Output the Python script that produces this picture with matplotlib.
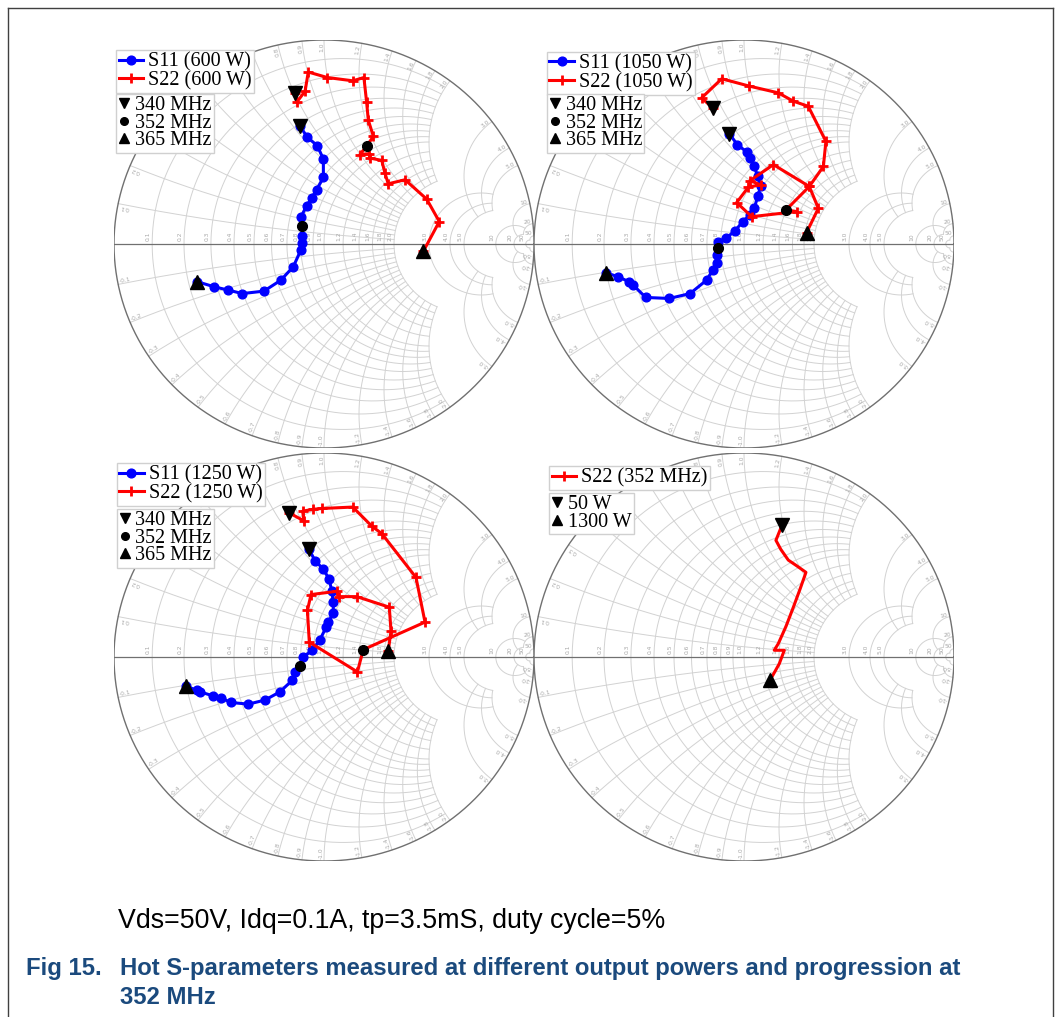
import numpy as np
import matplotlib
matplotlib.use('Agg')
import matplotlib.pyplot as plt
from matplotlib.lines import Line2D

# ---------------- data (reflection coefficient, real / imag) ----------------
# Panel 1: 600 W
p1_s11_re = [-0.114, -0.079, -0.032, -0.003, -0.003, -0.035, -0.059, -0.083, -0.111, -0.106,
             -0.103, -0.106, -0.111, -0.146, -0.205, -0.286, -0.389, -0.456, -0.522, -0.603]
p1_s11_im = [0.577, 0.523, 0.482, 0.416, 0.326, 0.266, 0.225, 0.187, 0.130, 0.090,
             0.041, 0.003, -0.031, -0.111, -0.177, -0.231, -0.243, -0.226, -0.210, -0.185]
p1_s22_re = [-0.137, -0.130, -0.090, -0.075, 0.016, 0.137, 0.190, 0.203, 0.211, 0.235, 0.205,
             0.171, 0.216, 0.219, 0.275, 0.290, 0.306, 0.386, 0.489, 0.549, 0.473]
p1_s22_im = [0.738, 0.695, 0.749, 0.843, 0.816, 0.800, 0.816, 0.695, 0.607, 0.528, 0.482,
             0.438, 0.443, 0.421, 0.410, 0.348, 0.295, 0.315, 0.220, 0.110, -0.036]
p1_s11_mid = 9
p1_s22_mid = 10

# Panel 2: 1050 W
p2_s11_re = [-0.070, -0.032, 0.016, 0.029, 0.049, 0.065, 0.079, 0.065, 0.049, 0.029, -0.006, -0.043,
             -0.087, -0.122, -0.125, -0.127, -0.130, -0.149, -0.178, -0.257, -0.356, -0.468,
             -0.527, -0.548, -0.598, -0.657]
p2_s11_im = [0.541, 0.487, 0.449, 0.421, 0.380, 0.331, 0.282, 0.233, 0.175, 0.143, 0.110, 0.064,
             0.028, 0.011, -0.021, -0.054, -0.095, -0.128, -0.177, -0.243, -0.267, -0.262,
             -0.202, -0.185, -0.161, -0.141]
p2_s22_re = [-0.149, -0.202, -0.106, 0.025, 0.163, 0.235, 0.306, 0.390, 0.378, 0.311, 0.200,
             0.251, 0.037, -0.035, 0.021, 0.079, 0.029, 0.140, 0.311, 0.354, 0.298]
p2_s22_im = [0.667, 0.716, 0.810, 0.774, 0.741, 0.700, 0.675, 0.503, 0.380, 0.282, 0.167,
             0.159, 0.134, 0.203, 0.279, 0.290, 0.311, 0.389, 0.282, 0.175, 0.056]
p2_s11_mid = 14
p2_s22_mid = 10

# Panel 3: 1250 W
p3_s11_re = [-0.071, -0.043, -0.003, 0.024, 0.037, 0.044, 0.044, 0.021, 0.010, -0.019, -0.056, -0.098,
             -0.116, -0.138, -0.151, -0.210, -0.281, -0.360, -0.444, -0.492, -0.530, -0.590,
             -0.606, -0.657]
p3_s11_im = [0.528, 0.472, 0.431, 0.382, 0.325, 0.268, 0.216, 0.171, 0.146, 0.085, 0.033, 0.000,
             -0.044, -0.073, -0.114, -0.171, -0.211, -0.231, -0.223, -0.199, -0.190, -0.171,
             -0.163, -0.143]
p3_s22_re = [-0.165, -0.095, -0.102, -0.051, -0.011, 0.137, 0.227, 0.275, 0.438, 0.481, 0.187,
             0.159, -0.070, -0.079, -0.062, 0.060, 0.073, 0.156, 0.311, 0.319, 0.306]
p3_s22_im = [0.706, 0.667, 0.715, 0.724, 0.728, 0.735, 0.642, 0.605, 0.390, 0.171, 0.036,
             -0.073, 0.073, 0.228, 0.306, 0.322, 0.296, 0.296, 0.244, 0.127, 0.029]
p3_s11_mid = 12
p3_s22_mid = 10

# Panel 4: S22 at 352 MHz, 50 W -> 1300 W
p4_s22_re = [0.179, 0.175, 0.152, 0.175, 0.211, 0.251, 0.295, 0.267, 0.235, 0.200, 0.163,
             0.144, 0.192, 0.168, 0.124]
p4_s22_im = [0.647, 0.631, 0.572, 0.528, 0.475, 0.447, 0.415, 0.333, 0.244, 0.150, 0.065,
             0.033, 0.033, -0.033, -0.114]

grid_values = [0.1, 0.2, 0.3, 0.4, 0.5, 0.6, 0.7, 0.8, 0.9, 1.0, 1.2, 1.4, 1.6, 1.8, 2.0,
               3.0, 4.0, 5.0, 10, 20, 50]
grid_labels = ['0.1', '0.2', '0.3', '0.4', '0.5', '0.6', '0.7', '0.8', '0.9', '1.0', '1.2', '1.4',
               '1.6', '1.8', '2.0', '3.0', '4.0', '5.0', '10', '20', '50']

legend_titles = [('S11 (600 W)', 'S22 (600 W)'), ('S11 (1050 W)', 'S22 (1050 W)'),
                 ('S11 (1250 W)', 'S22 (1250 W)'), (None, 'S22 (352 MHz)')]
freq_labels = ['340 MHz', '352 MHz', '365 MHz']
power_labels = ['50 W', '1300 W']

condition_text = 'Vds=50V, Idq=0.1A, tp=3.5mS, duty cycle=5%'
caption_num = 'Fig 15.'
caption_l1 = 'Hot S-parameters measured at different output powers and progression at'
caption_l2 = '352 MHz'

# ---------------- figure ----------------
W, H = 1061, 1017
fig = plt.figure(figsize=(W / 100, H / 100), dpi=100)

GRID_C = '#d2d2d2'
LAB_C = '#a8a8a8'


def limit(v):
    # grid lines of a value group stop where the next coarser group takes over
    if v <= 2.0 + 1e-9:
        return 2.0
    if v <= 5.0 + 1e-9:
        return 5.0
    if v <= 20 + 1e-9:
        return 20.0
    return 50.0


def gamma(z):
    return (z - 1) / (z + 1)


def smith_grid(ax):
    for v in grid_values:
        xm = limit(v)
        t = np.linspace(-np.arctan(xm), np.arctan(xm), 500)
        g = gamma(v + 1j * np.tan(t))
        ax.plot(g.real, g.imag, color=GRID_C, lw=0.7, zorder=1)
        rm = limit(v)
        t = np.linspace(0, np.arctan(rm), 400)
        for s in (1, -1):
            g = gamma(np.tan(t) + 1j * s * v)
            ax.plot(g.real, g.imag, color=GRID_C, lw=0.7, zorder=1)
    th = np.linspace(0, 2 * np.pi, 721)
    ax.plot(np.cos(th), np.sin(th), color='#707070', lw=1.0, zorder=2)
    ax.plot([-1, 1], [0, 0], color='#707070', lw=0.9, zorder=2)
    for v, lab in zip(grid_values, grid_labels):
        gx = (v - 1) / (v + 1)
        ax.text(gx - 0.008, 0.015, lab, rotation=90, rotation_mode='anchor', ha='left',
                va='bottom', fontsize=4.3, color=LAB_C, zorder=2)
        gb = gamma(1j * v)
        ang = np.degrees(np.angle(gb))
        ax.text(gb.real * 0.99, gb.imag * 0.99, lab, rotation=ang, rotation_mode='anchor',
                ha='right', va='bottom', fontsize=4.3, color=LAB_C, zorder=2)
        gb = gamma(-1j * v)
        ang = np.degrees(np.angle(gb)) + 180
        ax.text(gb.real * 0.99, gb.imag * 0.99, '-' + lab, rotation=ang, rotation_mode='anchor',
                ha='left', va='bottom', fontsize=4.3, color=LAB_C, zorder=2)


centers = [(324, 244), (744, 244), (324, 657), (744, 657)]
RX, RY = 210, 204

axes = []
for (cx, cy) in centers:
    ax = fig.add_axes([(cx - RX) / W, 1 - (cy + RY) / H, 2 * RX / W, 2 * RY / H])
    ax.set_xlim(-1, 1)
    ax.set_ylim(-1, 1)
    ax.axis('off')
    smith_grid(ax)
    axes.append(ax)

S11_KW = dict(color='#0000ff', lw=2.2, marker='o', ms=6.3, zorder=4)
S22_KW = dict(color='#ff0000', lw=2.2, marker='+', ms=7.5, mew=2.0, zorder=4)
MK = dict(color='black', ls='none', zorder=6)

panels = [
    (p1_s11_re, p1_s11_im, p1_s22_re, p1_s22_im, p1_s11_mid, p1_s22_mid),
    (p2_s11_re, p2_s11_im, p2_s22_re, p2_s22_im, p2_s11_mid, p2_s22_mid),
    (p3_s11_re, p3_s11_im, p3_s22_re, p3_s22_im, p3_s11_mid, p3_s22_mid),
]

LEG_FONT = dict(family='Liberation Serif', size=14.5)
LEG_KW = dict(loc='upper left', prop=LEG_FONT, frameon=True, fancybox=False,
              edgecolor='#d0d0d0', framealpha=1, borderpad=0.12, borderaxespad=0)

leg_pos = [((0.005, 0.975), (0.005, 0.868)),
           ((0.031, 0.971), (0.031, 0.868)),
           ((0.007, 0.975), (0.007, 0.863)),
           ((0.036, 0.968), (0.036, 0.902))]

for ax, (a_re, a_im, b_re, b_im, am, bm), titles, (lp1, lp2) in zip(axes[:3], panels,
                                                                   legend_titles[:3], leg_pos):
    h1, = ax.plot(a_re, a_im, **S11_KW)
    h2, = ax.plot(b_re, b_im, **S22_KW)
    for re, im, mid in ((a_re, a_im, am), (b_re, b_im, bm)):
        ax.plot(re[0], im[0], marker='v', ms=9.5, **MK)
        ax.plot(re[mid], im[mid], marker='o', ms=7, **MK)
        ax.plot(re[-1], im[-1], marker='^', ms=9.5, **MK)
    leg1 = ax.legend([h1, h2], list(titles), bbox_to_anchor=lp1, labelspacing=-0.03,
                     handlelength=1.2, handletextpad=0.25, **LEG_KW)
    ax.add_artist(leg1)
    mh = [Line2D([], [], marker=m, ms=ms, **MK) for m, ms in (('v', 7.5), ('o', 5.5), ('^', 7.5))]
    ax.legend(mh, freq_labels, bbox_to_anchor=lp2, labelspacing=-0.08, handlelength=0.55,
              handletextpad=0.25, **LEG_KW)

ax = axes[3]
lp1, lp2 = leg_pos[3]
ax.plot(p4_s22_re, p4_s22_im, color='#ff0000', lw=2.2, zorder=4)
ax.plot(p4_s22_re[0], p4_s22_im[0], marker='v', ms=9.5, **MK)
ax.plot(p4_s22_re[-1], p4_s22_im[-1], marker='^', ms=9.5, **MK)
hh = Line2D([], [], **{k: v for k, v in S22_KW.items() if k != 'zorder'})
leg1 = ax.legend([hh], [legend_titles[3][1]], bbox_to_anchor=lp1, handlelength=1.2,
                 handletextpad=0.25, **LEG_KW)
ax.add_artist(leg1)
mh = [Line2D([], [], marker=m, ms=7.5, **MK) for m in ('v', '^')]
ax.legend(mh, power_labels, bbox_to_anchor=lp2, labelspacing=-0.08, handlelength=0.55,
          handletextpad=0.25, **LEG_KW)

# outer frame
fx = lambda p: p / W
fy = lambda p: 1 - p / H
fig.add_artist(Line2D([fx(8), fx(8)], [fy(8), 0], color='#404040', lw=1.0))
fig.add_artist(Line2D([fx(1053), fx(1053)], [fy(8), 0], color='#404040', lw=1.0))
fig.add_artist(Line2D([fx(8), fx(1053)], [fy(8), fy(8)], color='#404040', lw=1.0))

fig.text(fx(118), fy(921), condition_text, fontsize=19.3, family='Liberation Sans',
         va='center', ha='left', color='black')
CAP_C = '#1b4a7d'
fig.text(fx(26), fy(968), caption_num, fontsize=17.2, family='Liberation Sans',
         weight='bold', va='center', ha='left', color=CAP_C)
fig.text(fx(120), fy(968), caption_l1, fontsize=17.2, family='Liberation Sans',
         weight='bold', va='center', ha='left', color=CAP_C)
fig.text(fx(120), fy(997), caption_l2, fontsize=17.2, family='Liberation Sans',
         weight='bold', va='center', ha='left', color=CAP_C)

fig.savefig('out.png', dpi=100, facecolor='white')
